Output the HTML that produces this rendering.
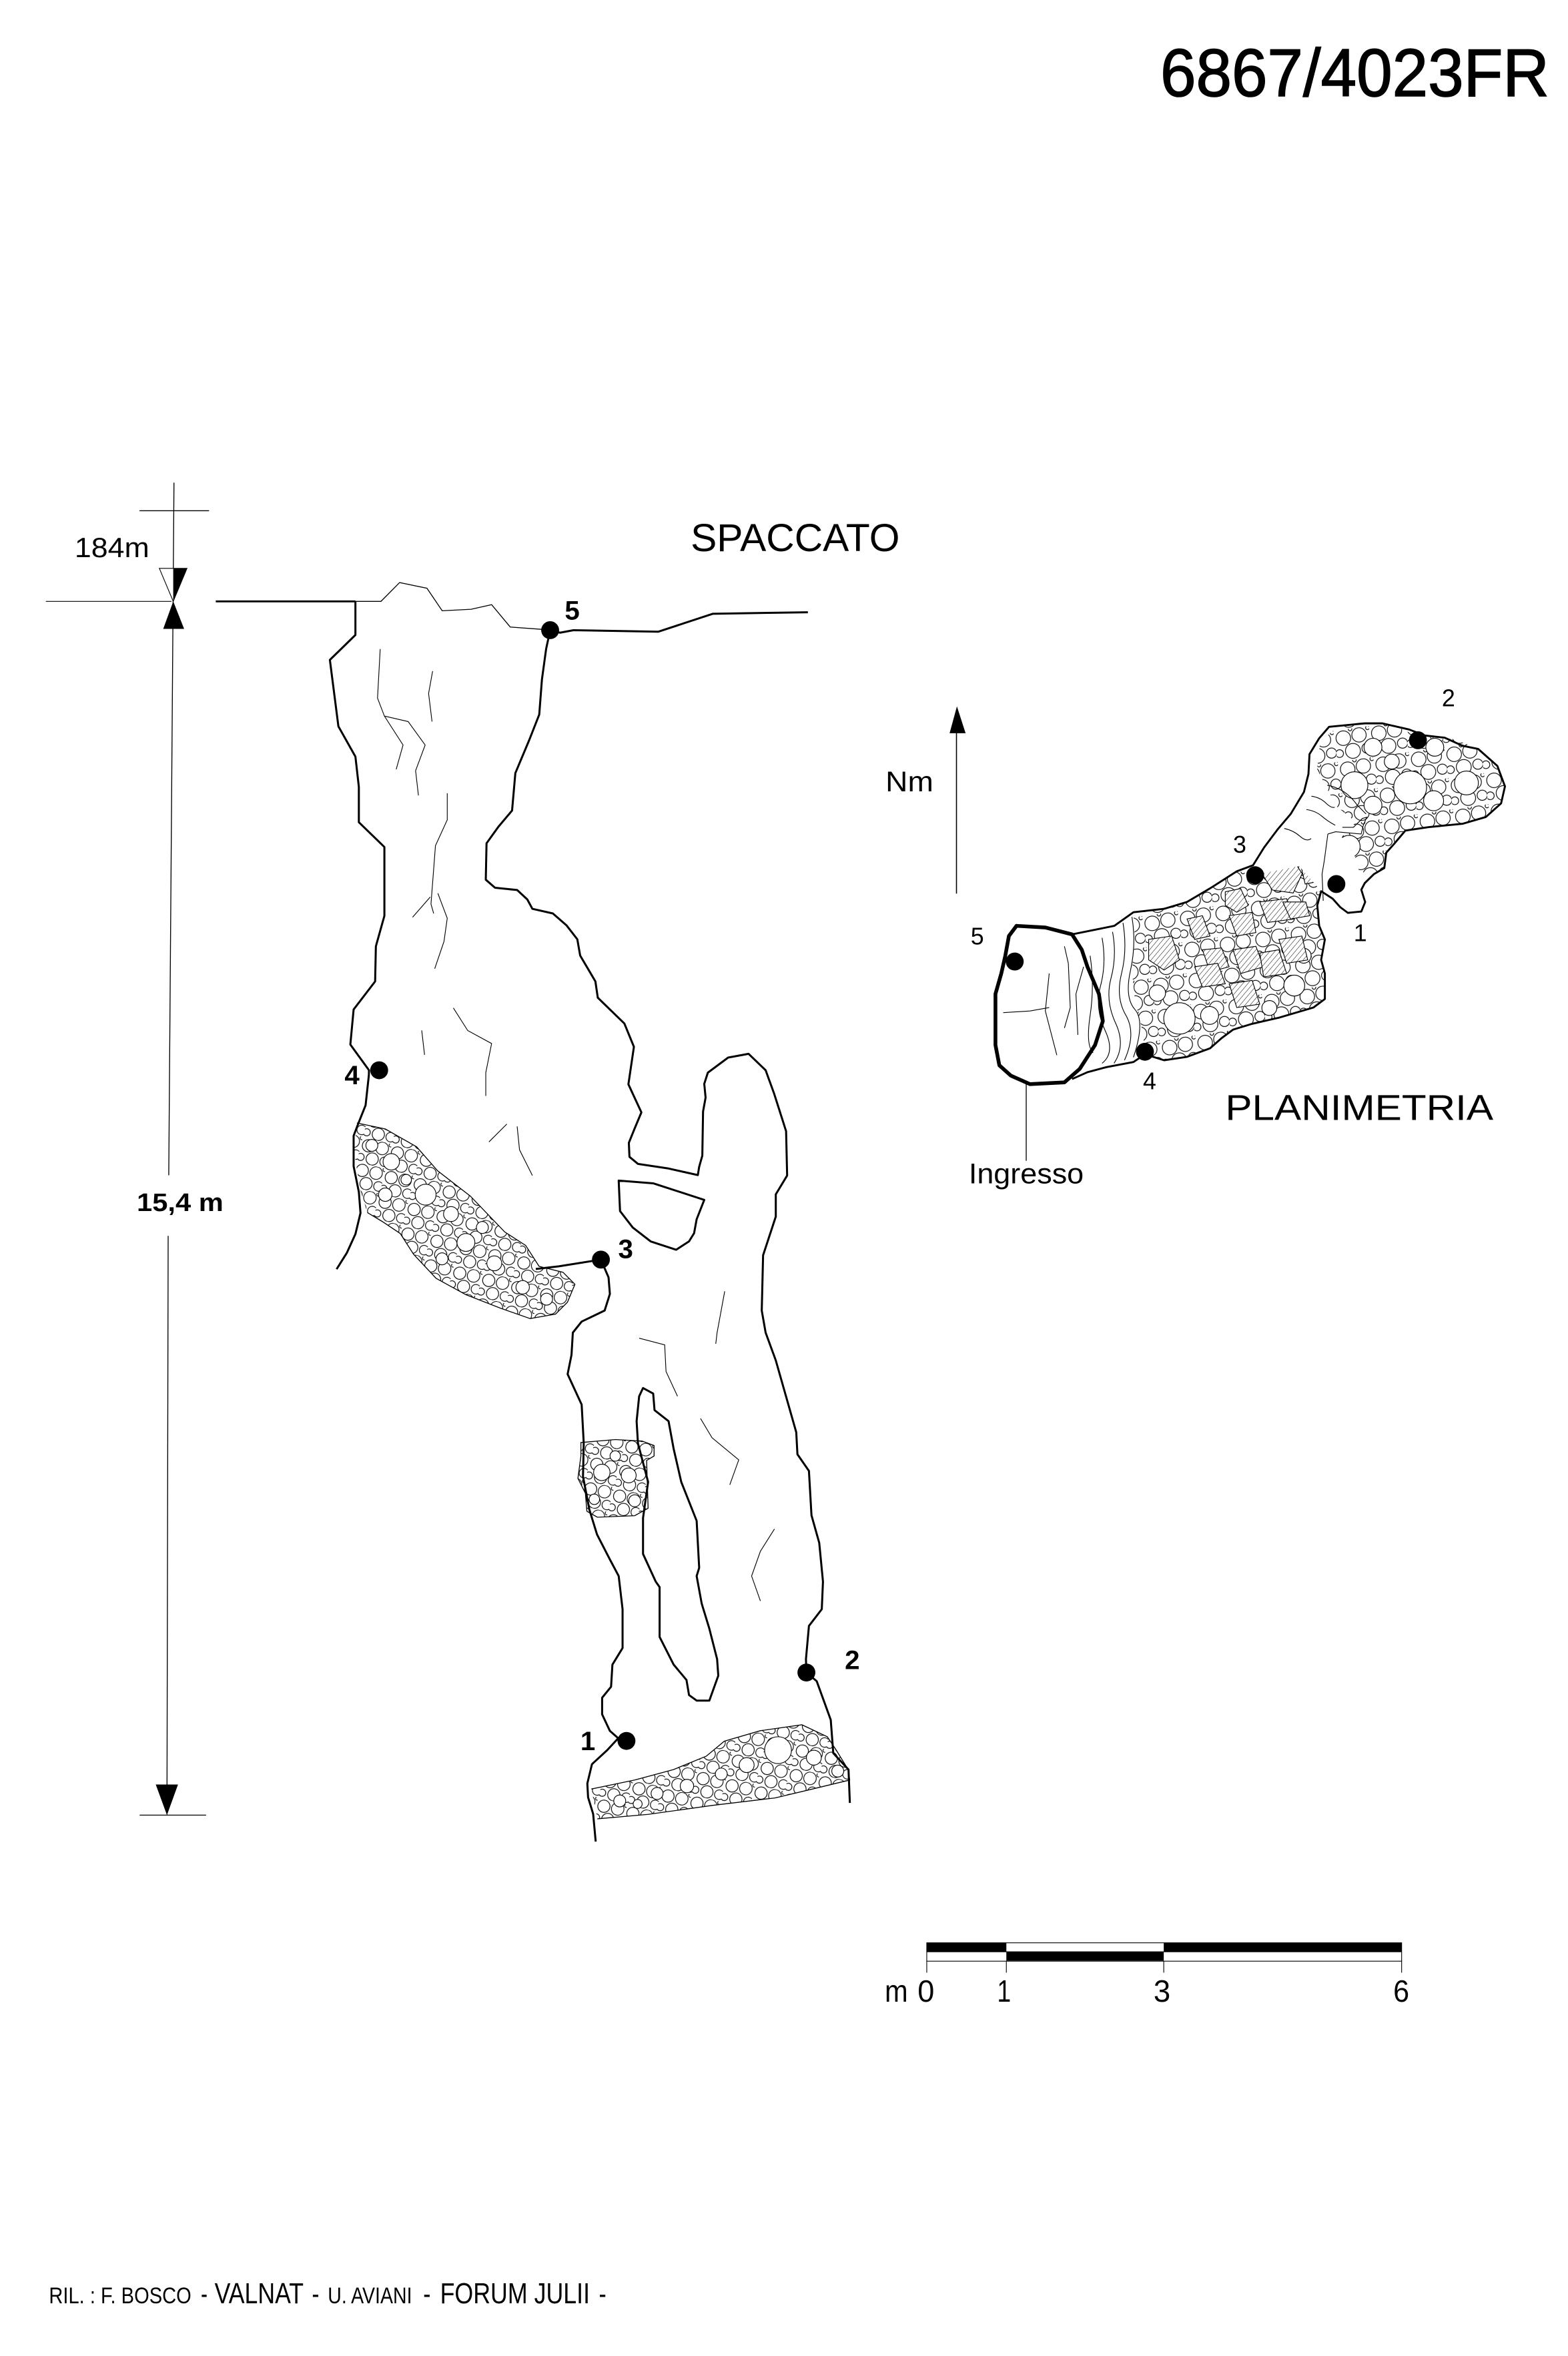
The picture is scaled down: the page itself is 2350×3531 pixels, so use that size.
<!DOCTYPE html>
<html><head><meta charset="utf-8"><style>
html,body{margin:0;padding:0;background:#fff}
svg{display:block}
text{font-family:"Liberation Sans",Arial,sans-serif;fill:#000}
</style></head><body>
<svg xmlns="http://www.w3.org/2000/svg" width="2350" height="3531" viewBox="0 0 1050 1577.7">
<defs>
<pattern id="rb" width="20" height="17" patternUnits="userSpaceOnUse" patternTransform="rotate(14)">
<rect width="20" height="17" fill="#fff"/>
<g fill="#fff" stroke="#000" stroke-width="0.5">
<circle cx="5" cy="4.8" r="4.1"/><circle cx="14.4" cy="4.3" r="4.2"/><circle cx="9.6" cy="12.8" r="4.1"/>
<circle cx="1.7" cy="13.3" r="2.4"/><circle cx="18.1" cy="12.6" r="3.2"/><circle cx="19.5" cy="0.8" r="1.2"/>
</g></pattern>
<pattern id="rp" width="24" height="21" patternUnits="userSpaceOnUse" patternTransform="rotate(-8)">
<rect width="24" height="21" fill="#fff"/>
<g fill="#fff" stroke="#000" stroke-width="0.5">
<circle cx="6" cy="5.7" r="4.9"/><circle cx="16.7" cy="5" r="4.8"/><circle cx="11.2" cy="15" r="5"/>
<circle cx="2.1" cy="15.6" r="2.6"/><circle cx="20.8" cy="14.5" r="3.4"/><circle cx="23" cy="1" r="1.3"/>
<circle cx="11.3" cy="0.3" r="1.2"/>
</g></pattern>
<pattern id="ht" width="2.6" height="2.6" patternUnits="userSpaceOnUse" patternTransform="rotate(40)">
<rect width="2.6" height="2.6" fill="#fff"/><line x1="0" y1="0" x2="0" y2="2.6" stroke="#000" stroke-width="0.45"/>
</pattern>
<clipPath id="cDeb"><path d="M239,752 L258,756 L279,768 L293,784 L315,801 L338,825 L352,834 L361,848 L377,852 L385,860 L380,872 L372,880 L355,883 L335,876 L312,867 L292,856 L277,840 L268,826 L256,818 L246,812 L241,796 L237,770 Z"/></clipPath>
<clipPath id="cBox"><path d="M389,966 L412,964 L430,965 L438,968 L438,975 L433,978 L434,1010 L425,1015 L400,1016 L393,1012 L392,1000 L387,990 L389,975 Z"/></clipPath>
<clipPath id="cBot"><path d="M396,1198 L425,1192 L451,1185 L473,1176 L485,1166 L509,1159 L537,1155 L554,1163 L560,1172 L568,1185 L569,1192 L540,1199 L519,1204 L477,1209 L434,1215 L400,1218 Z"/></clipPath>
<clipPath id="cMid"><path d="M759,611 L779,608 L795,604 L810,595 L828,583 L840,586 L870,580 L885,597 L882,606 L883,620 L887,629 L885,643 L887,652 L887,669 L880,675 L856,681 L838,686 L826,690 L818,695 L810,702 L795,708 L780,710 L767,706 L765,690 L760,670 L758,650 L760,630 Z"/></clipPath>
<clipPath id="cUp"><path d="M884,497 L895,487 L914,484.5 L933,485.5 L949,493 L974,495 L990,501.5 L1003,513 L1008,527 L1005,538 L995,547 L980,552 L957,554 L941,556 L933,565 L928,571 L927,581 L918,586 L910,583 L908,575 L903,566 L898,560 L908,556 L905,548 L895,540 L887,525 L882,515 Z"/></clipPath>
</defs>

<!-- Title -->
<text x="777" y="64.3" font-size="45" textLength="260.4" lengthAdjust="spacingAndGlyphs" stroke="#000" stroke-width="0.7">6867/4023FR</text>

<!-- Dimension line -->
<g stroke="#000" fill="none">
<line x1="116.5" y1="323.2" x2="113" y2="787" stroke-width="0.6"/>
<line x1="112.6" y1="827.6" x2="111.8" y2="1215" stroke-width="0.6"/>
<line x1="93.4" y1="342" x2="140" y2="342" stroke-width="0.6"/>
<line x1="93.5" y1="1215.5" x2="138" y2="1215.5" stroke-width="0.6"/>
<line x1="30.7" y1="402.7" x2="114.8" y2="402.7" stroke-width="0.5"/>
<line x1="144.5" y1="402.7" x2="238" y2="402.7" stroke-width="1.3"/>
</g>
<polygon points="106.7,380.6 125.2,380.6 116,402.7" fill="#fff" stroke="#000" stroke-width="0.5"/>
<polygon points="116,380.6 125.2,380.6 116,402.7" fill="#000"/>
<polygon points="109.3,421.1 123.3,421.1 116,402.7" fill="#000"/>
<polygon points="104.3,1195 119.2,1195 111.8,1215.5" fill="#000"/>
<text x="50" y="373.1" font-size="18.5" textLength="50" lengthAdjust="spacingAndGlyphs">184m</text>
<text x="91.6" y="811" font-size="17" font-weight="bold" textLength="58" lengthAdjust="spacingAndGlyphs">15,4 m</text>

<text x="462.5" y="369" font-size="26" textLength="140" lengthAdjust="spacingAndGlyphs">SPACCATO</text>

<!-- SPACCATO rubble -->
<g clip-path="url(#cDeb)">
<rect x="230" y="745" width="160" height="145" fill="url(#rb)"/>
<g fill="#fff" stroke="#000" stroke-width="0.5">
<circle cx="262" cy="778" r="5.5"/><circle cx="285" cy="800" r="7"/><circle cx="302" cy="813" r="5"/>
<circle cx="312" cy="832" r="6"/><circle cx="331" cy="846" r="5"/><circle cx="350" cy="862" r="4.5"/>
<circle cx="249" cy="767" r="4"/><circle cx="272" cy="790" r="3.5"/><circle cx="296" cy="843" r="4"/>
<circle cx="323" cy="822" r="4"/><circle cx="366" cy="870" r="4"/><circle cx="258" cy="800" r="4.5"/>
</g></g>
<path d="M239,752 L258,756 L279,768 L293,784 L315,801 L338,825 L352,834 L361,848 L377,852 L385,860 L380,872 L372,880 L355,883 L335,876 L312,867 L292,856 L277,840 L268,826 L256,818 L246,812" fill="none" stroke="#000" stroke-width="0.6"/>

<g clip-path="url(#cBox)">
<rect x="385" y="960" width="56" height="60" fill="url(#rb)"/>
<g fill="#fff" stroke="#000" stroke-width="0.5">
<circle cx="403" cy="986" r="5.5"/><circle cx="421" cy="988" r="5"/><circle cx="412" cy="975" r="3.5"/>
<circle cx="398" cy="1004" r="3.5"/><circle cx="425" cy="1005" r="4"/>
</g></g>
<path d="M389,966 L412,964 L430,965 L438,968 L438,975 L433,978 L434,1010 L425,1015 L400,1016 L393,1012 L392,1000 L387,990 L389,975 Z" fill="none" stroke="#000" stroke-width="0.6"/>

<g clip-path="url(#cBot)">
<rect x="390" y="1150" width="185" height="72" fill="url(#rb)"/>
<g fill="#fff" stroke="#000" stroke-width="0.5">
<circle cx="521" cy="1172" r="9"/><circle cx="500" cy="1182" r="5"/><circle cx="483" cy="1188" r="4"/>
<circle cx="545" cy="1177" r="5"/><circle cx="460" cy="1196" r="4.5"/><circle cx="440" cy="1201" r="4"/>
<circle cx="415" cy="1206" r="4"/><circle cx="561" cy="1186" r="4"/><circle cx="427" cy="1208" r="3"/>
</g></g>
<path d="M396,1198 L425,1192 L451,1185 L473,1176 L485,1166 L509,1159 L537,1155 L554,1163 L560,1172 L568,1185 L569,1192 L540,1199 L519,1204 L477,1209 L434,1215 L400,1218" fill="none" stroke="#000" stroke-width="0.6"/>

<!-- SPACCATO walls -->
<g fill="none" stroke="#000" stroke-width="1.35" stroke-linejoin="round">
<path d="M238,402.7 L238,425.2 L220.9,441.9 L226.6,486.4 L238,506.7 L240.3,527 L240.3,550.6 L257.4,567.2 L257.4,613.3 L251.7,633.7 L251.2,657.2 L236.8,676 L234.6,699.5 L247.1,716.7 L247,720 L244.8,740.2 L239.8,752.7 L236.8,760.6 L236.8,781 L240.3,798.2 L241.4,812.3 L238,826.4 L232.3,838.9 L225.4,849.9"/>
<path d="M368.4,422 L375,423.7 L384,422 L440.9,423 L477.4,411 L541,410"/>
<path d="M368.4,422 L365.7,434.6 L362.9,455 L361.1,478.5 L354.3,495.8 L345.1,517.7 L342.9,542.8 L333.7,553.7 L325.8,564.7 L325.3,589.1 L331.5,594.5 L346.3,596 L353.1,602.3 L356.5,608.6 L370.2,611.7 L379.3,619.6 L386.6,629 L388.5,639.9 L398.7,657.2 L400.3,668.1 L418.1,685.4 L424.5,701 L420.8,726.1 L429.5,744.9 L424.9,755.9 L421.1,765.3 L421.5,774.7 L427.2,779.4 L447.7,782.5 L467.3,786.9 L468.2,781.3 L470.3,773.9 L470.8,744.3 L472.5,735 L471.6,725.8 L474,718.3 L487.6,708.2 L501.3,705.7 L512.7,716.7 L518.4,732.4 L526.4,757.5 L527.1,787.2 L519.5,799.8 L519.5,814.7 L511,840.6 L510.1,877.6 L512.7,892.4 L519.5,911 L533.2,959.1 L534,973.9 L541.7,985 L543.4,1014.7 L548.6,1033.2 L551.1,1059.1 L550.3,1077.6 L541.7,1088.8 L539.7,1111 L540,1120 L546.9,1125.8 L556.3,1151.7 L558,1174 L568.2,1185 L569.1,1207.3"/>
<path d="M358.8,849.8 L374.2,848 L402.4,843.5 L407.5,855.4 L408.4,866.5 L404.9,877.6 L389.5,885 L383.6,892.4 L382.7,907.3 L380.1,920.2 L389.5,940.6 L390.9,966.5 L390.4,988.7 L394.7,1011 L399.8,1027.6 L408.4,1044.3 L414.3,1055.4 L416.9,1077.6 L416.9,1103.6 L410.1,1114.7 L409.2,1129.5 L403.2,1136.9 L403.2,1148 L408.4,1159.1 L414,1164 L406.6,1172 L396.4,1181.4 L393.3,1194.3 L393.8,1203.6 L397.2,1214.7 L398.9,1233.2"/>
<path d="M430.6,929.5 L437.4,933.2 L438.3,944.3 L447.7,951.7 L451.1,970.2 L456.2,992.4 L466.5,1018.4 L468.2,1049.9 L466.5,1055.4 L469.9,1073.9 L475,1090.6 L480.2,1111 L481,1122.1 L475,1138.8 L466.5,1138.8 L461.4,1135.1 L459.7,1125 L451.1,1114.7 L441.7,1096.2 L441.7,1062.8 L439.1,1059.1 L430.6,1040.6 L430.6,1016.5 L434,992.4 L427.2,966.5 L426.3,951.7 L428,935 Z"/>
<path d="M414.3,790.6 L437.4,792.4 L471.6,803.5 L466.5,816.5 L464.8,825.8 L461.4,831.3 L452.8,836.9 L435.7,831.3 L423.7,822 L415.2,811 Z"/>
</g>
<path d="M238,402.7 L255.1,402.7 L267.6,390.1 L285.9,393.9 L296.1,409 L315.5,408 L329.2,404.9 L341.7,419.9 L363.4,421.5" fill="none" stroke="#000" stroke-width="0.6"/>

<!-- cracks -->
<g fill="none" stroke="#000" stroke-width="0.5">
<path d="M254.6,434.6 L252.8,467.5 L257.4,479.5 L269.9,498.9 L265.3,515.2"/>
<path d="M257.4,479.5 L273.3,483.2 L284.7,498.9 L278.3,516.1 L280.2,532.7"/>
<path d="M289.7,449.4 L287,464.4 L289.3,483.2"/>
<path d="M299.5,531.2 L299.5,549 L291.6,566.3 L288.6,605.4 L290.4,611.7"/>
<path d="M276.3,614.2 L288.1,600.7"/>
<path d="M293.2,598.2 L299.5,614.9 L297.3,630.5 L291.1,648.7"/>
<path d="M303.6,675 L313.2,690.1 L329.2,698.8 L325.3,718.3 L325.3,733.9"/>
<path d="M282.4,690 L284.3,706.4"/>
<path d="M327.4,764.7 L339.4,752.7"/>
<path d="M346.3,754.3 L347.9,770 L356.5,787.2"/>
<path d="M485.3,864.7 L480.2,892.4 L479.3,899.9"/>
<path d="M428,896.1 L445.1,900.6 L446,918.4 L453.7,935"/>
<path d="M469.1,949.9 L476.8,962.8 L494.7,977.6 L488.7,994.3"/>
<path d="M518.6,1023.9 L509.2,1038.8 L503.3,1055.4 L509.2,1072.1"/>
</g>

<!-- SPACCATO stations -->
<g fill="#000">
<circle cx="368.4" cy="422" r="6"/><circle cx="253.9" cy="716.7" r="6"/><circle cx="402.4" cy="843.5" r="6"/>
<circle cx="540" cy="1120" r="6"/><circle cx="419.5" cy="1165.8" r="6"/>
</g>
<g font-size="18" font-weight="bold">
<text x="378.2" y="414.9">5</text><text x="230.7" y="726.1">4</text><text x="414" y="842.5">3</text>
<text x="565.7" y="1117.7">2</text><text x="388.7" y="1172.1">1</text>
</g>

<!-- North arrow -->
<line x1="640.5" y1="488" x2="640.5" y2="598.4" stroke="#000" stroke-width="0.7"/>
<polygon points="635.9,491 646.6,491 640.8,473" fill="#000"/>
<text x="593" y="530" font-size="19" textLength="32" lengthAdjust="spacingAndGlyphs">Nm</text>

<!-- PLANIMETRIA -->
<g clip-path="url(#cMid)">
<rect x="755" y="575" width="135" height="140" fill="url(#rp)"/>
<g fill="#fff" stroke="#000" stroke-width="0.5">
<circle cx="789.8" cy="682" r="10.5"/><circle cx="866.7" cy="660" r="7"/><circle cx="810" cy="680" r="6"/>
<circle cx="775" cy="665" r="5.5"/><circle cx="850" cy="675" r="5"/><circle cx="873" cy="640" r="5"/>
</g>
<g fill="url(#ht)" stroke="#000" stroke-width="0.5">
<path d="M848,572 L862,570 L872,585 L866,598 L852,596 L845,585 Z"/>
<path d="M870,575 L880,568 L888,575 L884,590 L874,592 Z"/>
<path d="M820.5,597.2 L830.8,595 L835.9,606.3 L828.2,610.9 L820.5,606.3 Z"/>
<path d="M769.2,629.1 L784.6,626.8 L789.8,642.8 L779.5,649.6 L769.2,642.8 Z"/>
<path d="M794.9,615.4 L805.2,613.2 L810.3,626.8 L800,629.1 Z"/>
<path d="M805.2,636 L818,634.8 L823.1,647.4 L810.3,650.8 Z"/>
<path d="M823.1,613.2 L838.5,610.9 L841,624.5 L828.2,626.8 Z"/>
<path d="M843.6,604 L861.6,601.8 L866.7,615.4 L848.8,617.7 Z"/>
<path d="M856.4,629.1 L871.8,626.8 L875.7,642.8 L861.6,645.1 Z"/>
<path d="M825.7,636 L841,633.7 L846.2,647.4 L830.8,652 Z"/>
<path d="M800,647.4 L815.4,645.1 L820.5,658.8 L805.2,661 Z"/>
<path d="M823.1,658.8 L838.5,656.5 L843.6,672.4 L828.2,674.7 Z"/>
<path d="M843.6,638.2 L856.4,636 L861.6,651.9 L846.2,654.2 Z"/>
<path d="M859,604 L874.4,604 L877,613.2 L864.2,615.4 Z"/>
</g></g>

<g clip-path="url(#cUp)">
<rect x="878" y="480" width="135" height="110" fill="url(#rp)"/>
<g fill="#fff" stroke="#000" stroke-width="0.5">
<circle cx="907" cy="525.8" r="9"/><circle cx="944.3" cy="527.3" r="11"/><circle cx="919.4" cy="500.4" r="6"/>
<circle cx="960.8" cy="500.4" r="6"/><circle cx="919.4" cy="539.2" r="6"/><circle cx="903.3" cy="566.9" r="7.5"/>
<circle cx="960" cy="536.2" r="6.7"/><circle cx="982" cy="524.3" r="8"/><circle cx="932" cy="510" r="5"/>
</g></g>

<g fill="none" stroke="#000" stroke-width="0.5">
<path d="M878.2,533.2 Q884,534 887.8,537.7 T893.8,540.6"/>
<path d="M874.8,542.1 Q881,543 885.2,546.6 T894.1,552.6"/>
<path d="M860,554.8 Q866,556 870.5,560 T878,561.5"/>
<path d="M888.8,525.8 Q895,527 899.9,530.2 T908.9,539.2 L914.8,545.1"/>
<path d="M712.8,633.7 L715.4,645.1 L716.7,674.7 L712.8,688.4"/>
<path d="M725.6,647.4 L720.5,665.6 L721.8,693"/>
<path d="M671.8,678.1 L689.7,677 L702.6,674.7"/>
<path d="M702.6,651.9 L700,677 L707.7,706.6"/>
<path d="M738,628 Q741,645 737,660 T740,690 T738,712"/>
<path d="M745,624 Q748,640 744,655 T747,685 T746,712"/>
<path d="M752,618 Q755,636 751,652 T754,680 T753,710"/>
<path d="M758,614 Q761,632 757,650 T760,676 T759,708"/>
<path d="M730,640 Q733,660 730,680 T732,705"/>
<path d="M886.8,576.4 L885.3,585.4 L886.1,603.2"/>
<path d="M889.2,558.5 L894.4,557 L911.5,558.5 L913,552.5 L915.2,547.3 L912.3,548.1 L906.3,554 L898.9,554"/>
<path d="M889.2,558.5 L886.8,576.4"/>
</g>

<path d="M717.9,625.7 L746.2,620 L759,610.9 L779.5,608.6 L794.9,604 L810.3,594.9 L828.2,583.5 L839.1,579.4 L846.5,567.5 L855.4,555.6 L864.3,545.1 L873.2,530.3 L876.2,518.3 L876.9,505 L883.3,494.5 L890,486.7 L913.8,484.4 L925.7,484.4 L943.6,488.5 L954,492.5 L967.4,494 L979.3,499.4 L989.8,501.5 L1002.7,512.9 L1007.8,526.6 L1005.2,538 L995,547.1 L979.6,551.6 L956.5,553.9 L941.1,556.2 L933.4,565.3 L928.3,571 L927,581.3 L920,585.4 L913.9,591.4 L911.6,595.8 L913.9,603.2 L914.2,604 L911.6,610.4 L902.6,611.3 L897.5,607.5 L892.4,601.8 L884.7,596.8 L882.1,606.3 L883.4,620 L887.2,629.1 L884.7,642.8 L887.2,651.9 L887.2,669 L879.5,674.7 L856.4,681.5 L838.5,685.6 L825.7,689.5 L818,695.2 L810.3,702 L794.9,707.7 L779.5,710 L766.7,706 L759,711.2 L741,714.6 L728.2,718 L717.9,722.6" fill="none" stroke="#000" stroke-width="1.3" stroke-linejoin="round"/>
<path d="M680.7,620 L700,621.1 L717.9,625.7 L724.4,636 L728.2,647.4 L735.9,665.6 L738.5,683.8 L733.3,699.8 L723.1,715.7 L712.8,724.8 L689.7,726 L676.9,720.3 L669.2,713.4 L666.6,699.8 L666.6,665.6 L670.5,651.9 L673.1,640.5 L675.6,626.8 Z" fill="none" stroke="#000" stroke-width="2.5" stroke-linejoin="round"/>
<line x1="687.2" y1="726" x2="687.2" y2="777.3" stroke="#000" stroke-width="0.6"/>

<g fill="#000">
<circle cx="679.5" cy="643.9" r="6"/><circle cx="766.7" cy="704.3" r="6"/><circle cx="840.5" cy="586.1" r="6"/>
<circle cx="949.5" cy="495.7" r="6"/><circle cx="894.9" cy="592" r="6"/>
</g>
<g font-size="16">
<text x="965.5" y="473">2</text><text x="825.7" y="571">3</text><text x="906.5" y="630.3">1</text>
<text x="650" y="632.5">5</text><text x="765.4" y="729.4">4</text>
</g>
<text x="820.5" y="750" font-size="24" textLength="179.5" lengthAdjust="spacingAndGlyphs">PLANIMETRIA</text>
<text x="648.7" y="792.5" font-size="19" textLength="77" lengthAdjust="spacingAndGlyphs">Ingresso</text>

<!-- Scale bar -->
<g stroke="#000" stroke-width="0.5" fill="none">
<rect x="620.6" y="1301" width="318" height="12.3"/>
<line x1="620.6" y1="1307" x2="938.6" y2="1307"/>
<line x1="620.6" y1="1313" x2="620.6" y2="1321"/>
<line x1="673.9" y1="1313" x2="673.9" y2="1321"/>
<line x1="779.3" y1="1313" x2="779.3" y2="1321"/>
<line x1="938.6" y1="1313" x2="938.6" y2="1321"/>
</g>
<g fill="#000">
<rect x="620.6" y="1301" width="53.3" height="6"/>
<rect x="779.3" y="1301" width="159.3" height="6"/>
<rect x="673.9" y="1307" width="105.4" height="6"/>
</g>
<g font-size="20.5">
<text x="592.5" y="1340.5" textLength="15.5" lengthAdjust="spacingAndGlyphs">m</text>
<text x="614.5" y="1340.5" textLength="11.2" lengthAdjust="spacingAndGlyphs">0</text>
<text x="667.7" y="1340.5" textLength="9.3" lengthAdjust="spacingAndGlyphs">1</text>
<text x="772.5" y="1340.5" textLength="11.3" lengthAdjust="spacingAndGlyphs">3</text>
<text x="933" y="1340.5" textLength="10.7" lengthAdjust="spacingAndGlyphs">6</text>
</g>

<!-- Footer -->
<g>
<text x="32.8" y="1542.3" font-size="15.5" textLength="95.3" lengthAdjust="spacingAndGlyphs">RIL. : F. BOSCO</text>
<text x="134.5" y="1542.3" font-size="19" textLength="4.5" lengthAdjust="spacingAndGlyphs">-</text>
<text x="143.7" y="1542.3" font-size="19.4" textLength="59.6" lengthAdjust="spacingAndGlyphs">VALNAT</text>
<text x="208.8" y="1542.3" font-size="19" textLength="5" lengthAdjust="spacingAndGlyphs">-</text>
<text x="219.5" y="1542.3" font-size="15.5" textLength="56.4" lengthAdjust="spacingAndGlyphs">U. AVIANI</text>
<text x="283.4" y="1542.3" font-size="19" textLength="5" lengthAdjust="spacingAndGlyphs">-</text>
<text x="294.7" y="1542.3" font-size="19.4" textLength="100.3" lengthAdjust="spacingAndGlyphs">FORUM JULII</text>
<text x="401" y="1542.3" font-size="19" textLength="5" lengthAdjust="spacingAndGlyphs">-</text>
</g>
</svg>
</body></html>
